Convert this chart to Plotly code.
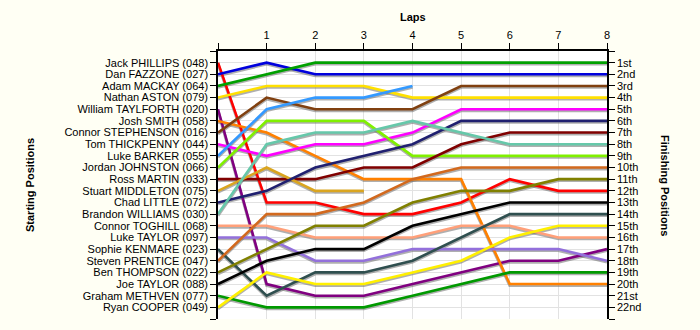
import plotly.graph_objects as go

# Lap numbers (0 = grid)
laps = [0, 1, 2, 3, 4, 5, 6, 7, 8]

drivers = [
    "Jack PHILLIPS (048)", "Dan FAZZONE (027)", "Adam MACKAY (064)",
    "Nathan ASTON (079)", "William TAYLFORTH (020)", "Josh SMITH (058)",
    "Connor STEPHENSON (016)", "Tom THICKPENNY (044)", "Luke BARKER (055)",
    "Jordan JOHNSTON (066)", "Ross MARTIN (033)", "Stuart MIDDLETON (075)",
    "Chad LITTLE (072)", "Brandon WILLIAMS (030)", "Connor TOGHILL (068)",
    "Luke TAYLOR (097)", "Sophie KENMARE (023)", "Steven PRENTICE (047)",
    "Ben THOMPSON (022)", "Joe TAYLOR (088)", "Graham METHVEN (077)",
    "Ryan COOPER (049)",
]

# Race position of each driver at the end of each lap (None = retired)
positions = [
    [1, 13, 13, 14, 14, 13, 11, 12, 12],
    [2, 1, 2, 2, 2, 2, 2, 2, 2],
    [3, 2, 1, 1, 1, 1, 1, 1, 1],
    [4, 3, 3, 3, 4, 4, 4, 4, 4],
    [5, 20, 21, 21, 20, 19, 18, 18, 17],
    [6, 7, 9, 11, 11, 11, 20, 20, 20],
    [7, 4, 5, 5, 5, 3, 3, 3, 3],
    [8, 9, 8, 8, 7, 5, 5, 5, 5],
    [9, 5, 4, 4, 3, None, None, None, None],
    [10, 6, 6, 6, 9, 9, 9, 9, 9],
    [11, 11, 11, 10, 10, 8, 7, 7, 7],
    [12, 10, 12, 12, None, None, None, None, None],
    [13, 12, 10, 9, 8, 6, 6, 6, 6],
    [14, 8, 7, 7, 6, 7, 8, 8, 8],
    [15, 15, 16, 16, 16, 15, 15, 16, 16],
    [16, 16, 18, 18, 17, 17, 17, 17, 18],
    [17, 21, 19, 19, 18, 16, 14, 14, 14],
    [18, 14, 14, 13, 11, 10, 10, 10, 10],
    [19, 17, 15, 15, 13, 12, 12, 11, 11],
    [20, 18, 17, 17, 15, 14, 13, 13, 13],
    [21, 22, 22, 22, 21, 20, 19, 19, 19],
    [22, 19, 20, 20, 19, 18, 16, 15, 15],
]

colors = [
    "#FF0000", "#0000DD", "#00A000", "#FFE000", "#800080", "#FF8000",
    "#804010", "#FF00FF", "#3399FF", "#80F000", "#800000", "#DAA520",
    "#202070", "#66C8AA", "#FFA07A", "#9370DB", "#2F4F4F", "#D2691E",
    "#808000", "#000000", "#009900", "#FFF000",
]

finish_labels = [
    "1st", "2nd", "3rd", "4th", "5th", "6th", "7th", "8th", "9th", "10th",
    "11th", "12th", "13th", "14th", "15th", "16th", "17th", "18th", "19th",
    "20th", "21st", "22nd",
]

lap_labels = [""] + [str(l) for l in laps[1:]]

FONT = "Liberation Sans"
n = len(drivers)

fig = go.Figure()

# soft drop shadow under each line
for pos in positions:
    fig.add_trace(go.Scatter(
        x=laps, y=[None if p is None else p + 0.12 for p in pos],
        mode="lines", line=dict(color="rgba(110,110,110,0.55)", width=3),
        hoverinfo="skip", showlegend=False, connectgaps=False,
    ))

for name, pos, col in zip(drivers, positions, colors):
    fig.add_trace(go.Scatter(
        x=laps, y=pos, mode="lines", name=name,
        line=dict(color=col, width=2.6), showlegend=False,
    ))

# invisible trace to activate the right-hand axis
fig.add_trace(go.Scatter(x=[0], y=[1], yaxis="y2", mode="markers",
                         marker=dict(opacity=0), hoverinfo="skip",
                         showlegend=False))

ytick_vals = list(range(0, n + 2))
left_text = [""] + drivers + [""]
right_text = [""] + finish_labels + [""]

fig.update_layout(
    width=700, height=330,
    margin=dict(l=218, r=93, t=51, b=11),
    paper_bgcolor="#FFFFF4",
    plot_bgcolor="#FFFFFF",
    font=dict(family=FONT, size=11, color="#000000"),
    xaxis=dict(
        side="top", range=[0, 8], tickvals=laps, ticktext=lap_labels,
        showgrid=True, gridcolor="#E2E2E2", gridwidth=1,
        showline=True, linecolor="#000000", linewidth=1.5,
        ticks="outside", ticklen=6, tickcolor="#000000",
        zeroline=False, fixedrange=True,
    ),
    yaxis=dict(
        range=[n + 1, 0], tickvals=ytick_vals, ticktext=left_text,
        showgrid=True, gridcolor="#E2E2E2", gridwidth=1,
        showline=True, linecolor="#000000", linewidth=1.5,
        ticks="outside", ticklen=6, tickcolor="#000000",
        zeroline=False, fixedrange=True,
    ),
    yaxis2=dict(
        overlaying="y", side="right", range=[n + 1, 0],
        tickvals=ytick_vals, ticktext=right_text,
        showgrid=False, showline=True, linecolor="#000000", linewidth=1.5,
        ticks="outside", ticklen=6, tickcolor="#000000",
        zeroline=False, fixedrange=True,
    ),
    annotations=[
        dict(text="<b>Laps</b>", xref="paper", yref="paper",
             x=0.5, y=(319 - 17) / 268, xanchor="center", yanchor="middle",
             showarrow=False, font=dict(family=FONT, size=11)),
        dict(text="<b>Starting Positions</b>", xref="paper", yref="paper",
             x=(30 - 218) / 389, y=0.5, xanchor="center", yanchor="middle",
             textangle=-90, showarrow=False, font=dict(family=FONT, size=11)),
        dict(text="<b>Finishing Positions</b>", xref="paper", yref="paper",
             x=(665 - 218) / 389, y=0.5, xanchor="center", yanchor="middle",
             textangle=90, showarrow=False, font=dict(family=FONT, size=11)),
    ],
)

fig.write_html("out.html")
